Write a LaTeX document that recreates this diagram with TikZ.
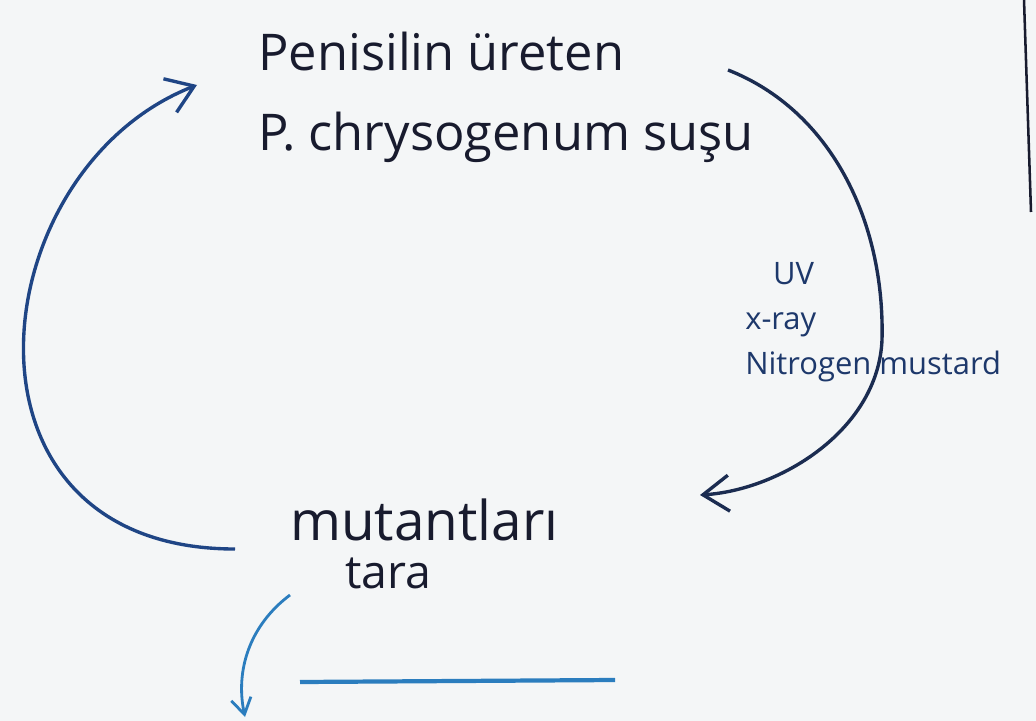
\documentclass[tikz,border=0pt]{standalone}
\usepackage{fontspec}
\setmainfont{Open Sans}
\usepackage{tikz}
\usetikzlibrary{arrows.meta,positioning}
\definecolor{Papel}{HTML}{F4F6F7}
\definecolor{Tinta}{HTML}{181B2E}
\definecolor{Marino}{HTML}{1F4585}
\definecolor{Celeste}{HTML}{2B7DBE}

\begin{document}
\begin{tikzpicture}[
  x=0.025cm, y=-0.025cm,
  texto/.style={text=Tinta, inner sep=0pt, align=left},
  grande/.style={texto, font=\fontsize{36}{57}\selectfont},
  agente/.style={texto, text=Marino!70!Tinta, font=\fontsize{22}{32}\selectfont},
  arco/.style={-{Straight Barb[length=6.5mm,width=9mm]}, line width=2.4pt, Marino},
  flecha/.style={-{Straight Barb[length=4mm,width=5mm]}, line width=2pt, Celeste}
]
  \path[fill=Papel] (0,0) rectangle (1036,721);
  \useasboundingbox (0,0) rectangle (1036,721);

  % Cepa productora, agentes mutagenicos y mutantes.
  \node[grande,anchor=north west] (cepa) at (258,32)
    {Penisilin üreten\\P. chrysogenum suşu};
  \node[agente,anchor=north west] (agentes) at (745,262)
    {\hspace{0.9em}UV\\x-ray\\Nitrogen mustard};
  \node[grande,font=\fontsize{39}{45}\selectfont,anchor=base west] (mutantes) at (290,540) {mutantları};
  \node[texto,font=\fontsize{33}{38}\selectfont,anchor=base west] (tara) at (345,588) {tara};

  % Extremos libres de los trazos a mano.
  \coordinate (cepaR) at (728,70);
  \coordinate (mutR) at (700,495);
  \coordinate (mutL) at (235,549);
  \coordinate (cepaL) at (197,85);
  \coordinate (taraA) at (290,595);
  \coordinate (taraB) at (245,717);
  \coordinate (rayaA) at (300,682);
  \coordinate (rayaB) at (615,680);

  \draw[arco,Tinta!60!Marino] (cepaR) .. controls (830,110) and (885,220) .. (882,340)
    .. controls (878,430) and (780,490) .. (mutR);
  \draw[arco] (mutL) .. controls (-60,549) and (-20,170) .. (cepaL);
  \draw[flecha] (taraA) .. controls (250,625) and (235,670) .. (taraB);
  \draw[Celeste,line width=3pt] (rayaA) -- (rayaB);

  % Borde de la hoja.
  \draw[Tinta,line width=1.8pt] (1024,0) -- (1031,212);
\end{tikzpicture}
\end{document}
